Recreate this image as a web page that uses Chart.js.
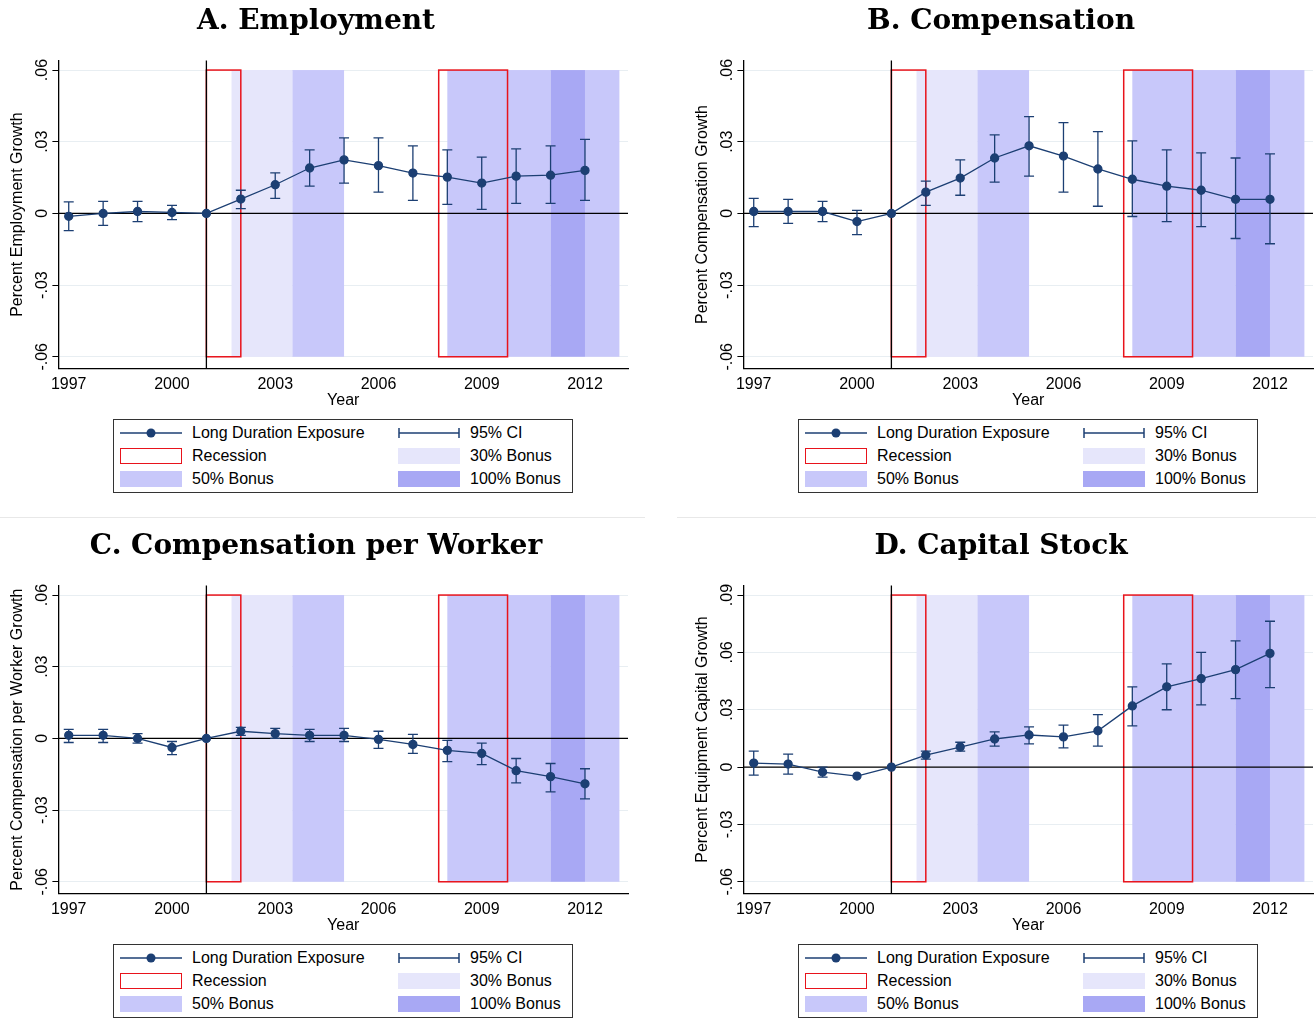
<!DOCTYPE html>
<html><head><meta charset="utf-8">
<script src="https://cdn.jsdelivr.net/npm/chart.js@4"></script>
<style>
body{margin:0;background:#fff;font-family:"Liberation Sans",Arial,sans-serif;}
#grid{position:relative;width:1316px;height:1019px;}
.panel{position:absolute;width:658px;height:509px;}
.panel canvas{position:absolute;left:0;top:0;}
.sep{position:absolute;height:1px;background:#e8e8e8;top:517px;}
.legend{position:absolute;left:113px;top:419px;width:458px;height:72px;border:1px solid #333;font-size:16px;color:#000;}
.item{position:absolute;height:20px;line-height:20px;}
.sw{position:absolute;left:0;top:2px;width:62px;height:16px;box-sizing:border-box;}
.lbl{position:absolute;left:72px;top:0;white-space:nowrap;}
</style></head><body>
<div id="grid"><div class="sep" style="left:0;width:645px"></div><div class="sep" style="left:677px;width:639px"></div></div>
<script>
const years=[1997,1998,1999,2000,2001,2002,2003,2004,2005,2006,2007,2008,2009,2010,2011,2012];
const xTicks=[1997,2000,2003,2006,2009,2012];
// Panel A
const empVal=[-0.0012,0,0.0008,0.0004,0,0.006,0.012,0.019,0.0224,0.020,0.0169,0.0152,0.0127,0.0156,0.016,0.018];
const empLo=[-0.0072,-0.005,-0.0034,-0.0026,0,0.002,0.0063,0.0114,0.0127,0.0089,0.0055,0.0038,0.0017,0.0042,0.0042,0.0055];
const empHi=[0.0048,0.005,0.005,0.0034,0,0.0097,0.017,0.0266,0.0316,0.0316,0.0283,0.0266,0.0236,0.027,0.0283,0.031];
// Panel B
const compVal=[0.0008,0.0008,0.0008,-0.0034,0,0.0089,0.0148,0.0232,0.0283,0.024,0.0186,0.0143,0.0114,0.0097,0.0059,0.0059];
const compLo=[-0.0055,-0.0042,-0.0034,-0.0089,0,0.0034,0.0076,0.0131,0.0156,0.0089,0.003,-0.0013,-0.0034,-0.0055,-0.0105,-0.0127];
const compHi=[0.0063,0.0059,0.005,0.0013,0,0.0135,0.0224,0.0329,0.0405,0.038,0.0342,0.0304,0.0266,0.0253,0.0232,0.0249];
// Panel C
const cpwVal=[0.0013,0.0013,0,-0.0038,0,0.003,0.002,0.0013,0.0013,-0.0004,-0.0025,-0.005,-0.0063,-0.0135,-0.016,-0.019];
const cpwLo=[-0.0017,-0.0017,-0.002,-0.0068,0,0.0013,0,-0.0013,-0.0013,-0.0042,-0.0063,-0.0097,-0.011,-0.0186,-0.0224,-0.0253];
const cpwHi=[0.0038,0.0038,0.002,-0.0013,0,0.0046,0.0042,0.0038,0.0042,0.003,0.0017,-0.0008,-0.002,-0.0084,-0.0105,-0.0127];
// Panel D
const capVal=[0.0021,0.0016,-0.0026,-0.0047,0,0.0063,0.0105,0.0147,0.0168,0.0158,0.019,0.032,0.042,0.0463,0.051,0.0595];
const capLo=[-0.0042,-0.0037,-0.0053,-0.0047,0,0.0042,0.0084,0.011,0.0121,0.01,0.011,0.0216,0.03,0.0326,0.0358,0.0416];
const capHi=[0.0084,0.0068,0,-0.0047,0,0.0084,0.013,0.0184,0.021,0.022,0.0274,0.042,0.054,0.06,0.066,0.0763];
// shading: [start,end,type]
const bands=[[2001.73,2003.5,'b30'],[2003.5,2005,'b50'],[2008,2011,'b50'],[2011,2012,'b100'],[2012,2013,'b50']];
const recessions=[[2001,2002],[2007.75,2009.75]];
const colors={b30:'rgb(230,230,251)',b50:'rgb(200,200,250)',b100:'rgb(168,168,244)',line:'#1c3f73',rec:'#e8131b'};

const panels=[
 {title:'A. Employment',yTitle:'Percent Employment Growth',v:empVal,lo:empLo,hi:empHi,yr:[-0.06,0.06],left:0,top:0},
 {title:'B. Compensation',yTitle:'Percent Compensation Growth',v:compVal,lo:compLo,hi:compHi,yr:[-0.06,0.06],left:685,top:0},
 {title:'C. Compensation per Worker',yTitle:'Percent Compensation per Worker Growth',v:cpwVal,lo:cpwLo,hi:cpwHi,yr:[-0.06,0.06],left:0,top:525},
 {title:'D. Capital Stock',yTitle:'Percent Equipment Capital Growth',v:capVal,lo:capLo,hi:capHi,yr:[-0.06,0.09],left:685,top:525}
];
function fmt(v){if(Math.abs(v)<1e-9)return '0';let s=Math.abs(v).toFixed(2).replace(/^0/,'');return (v<0?'-':'')+s;}

const overlay={id:'overlay',
 beforeDatasetsDraw(c,a,o){const {ctx,scales:{x,y}}=c;const [y0,y1]=o.yr;ctx.save();
  for(const b of bands){ctx.fillStyle=colors[b[2]];const L=x.getPixelForValue(b[0]),R=x.getPixelForValue(b[1]);ctx.fillRect(L,y.getPixelForValue(y1),R-L,y.getPixelForValue(y0)-y.getPixelForValue(y1));}
  ctx.strokeStyle=colors.rec;ctx.lineWidth=1.5;
  for(const r of recessions){const L=x.getPixelForValue(r[0]),R=x.getPixelForValue(r[1]);ctx.strokeRect(L,y.getPixelForValue(y1),R-L,y.getPixelForValue(y0)-y.getPixelForValue(y1));}
  ctx.strokeStyle='#000';ctx.lineWidth=1.3;ctx.beginPath();
  ctx.moveTo(x.left,y.getPixelForValue(0));ctx.lineTo(x.right,y.getPixelForValue(0));
  const vx=x.getPixelForValue(2001);ctx.moveTo(vx,y.top);ctx.lineTo(vx,y.bottom);ctx.stroke();
  ctx.strokeStyle=colors.line;ctx.lineWidth=1.3;ctx.beginPath();
  years.forEach((yy,i)=>{if(o.lo[i]===o.hi[i])return;const px=x.getPixelForValue(yy),a1=y.getPixelForValue(o.lo[i]),a2=y.getPixelForValue(o.hi[i]);
   ctx.moveTo(px,a1);ctx.lineTo(px,a2);ctx.moveTo(px-5,a1);ctx.lineTo(px+5,a1);ctx.moveTo(px-5,a2);ctx.lineTo(px+5,a2);});
  ctx.stroke();ctx.restore();},
 afterDraw(c,a,o){const {ctx,scales:{y}}=c;ctx.save();ctx.fillStyle='#000';ctx.font='16px "Liberation Sans", Arial, sans-serif';
  ctx.textAlign='center';ctx.textBaseline='bottom';
  y.ticks.forEach(t=>{const py=y.getPixelForValue(t.value);ctx.save();ctx.translate(y.right-8,py);ctx.rotate(-Math.PI/2);ctx.fillText(fmt(t.value),0,0);ctx.restore();});
  ctx.restore();}};

panels.forEach((p,k)=>{
 const d=document.createElement('div');d.className='panel';d.style.left=p.left+'px';d.style.top=p.top+'px';
 d.innerHTML='<canvas width="640" height="410" style="width:640px;height:410px"></canvas>'+
 '<div class="legend">'+
 '<div class="item" style="left:6px;top:3px"><svg class="sw" style="height:16px" viewBox="0 0 62 16"><line x1="0" y1="8" x2="62" y2="8" stroke="'+colors.line+'" stroke-width="1.5"/><circle cx="31" cy="8" r="4.5" fill="'+colors.line+'"/></svg><span class="lbl">Long Duration Exposure</span></div>'+
 '<div class="item" style="left:284px;top:3px"><svg class="sw" viewBox="0 0 62 16"><line x1="1" y1="8" x2="61" y2="8" stroke="'+colors.line+'" stroke-width="1.5"/><line x1="1" y1="3" x2="1" y2="13" stroke="'+colors.line+'" stroke-width="1.5"/><line x1="61" y1="3" x2="61" y2="13" stroke="'+colors.line+'" stroke-width="1.5"/></svg><span class="lbl">95% CI</span></div>'+
 '<div class="item" style="left:6px;top:26px"><div class="sw" style="border:1.5px solid '+colors.rec+'"></div><span class="lbl">Recession</span></div>'+
 '<div class="item" style="left:284px;top:26px"><div class="sw" style="background:'+colors.b30+'"></div><span class="lbl">30% Bonus</span></div>'+
 '<div class="item" style="left:6px;top:49px"><div class="sw" style="background:'+colors.b50+'"></div><span class="lbl">50% Bonus</span></div>'+
 '<div class="item" style="left:284px;top:49px"><div class="sw" style="background:'+colors.b100+'"></div><span class="lbl">100% Bonus</span></div>'+
 '</div>';
 document.getElementById('grid').appendChild(d);
 const pad=(p.yr[1]-p.yr[0])*0.033;
 const yt=[];for(let t=p.yr[0];t<=p.yr[1]+1e-9;t+=0.03)yt.push(+t.toFixed(2));
 new Chart(d.querySelector('canvas'),{type:'line',
  data:{datasets:[{data:years.map((y,i)=>({x:y,y:p.v[i]})),borderColor:colors.line,backgroundColor:colors.line,borderWidth:1.3,pointRadius:4,pointHoverRadius:4,tension:0}]},
  options:{responsive:false,animation:false,
   layout:{padding:{left:4,right:12,top:0,bottom:0}},
   plugins:{legend:{display:false},tooltip:{enabled:false},overlay:{yr:p.yr,lo:p.lo,hi:p.hi},
    title:{display:true,text:p.title,color:'#000',font:{family:'"DejaVu Serif"',size:28,weight:'bold'},padding:{top:5,bottom:22}}},
   scales:{
    x:{type:'linear',min:1996.7,max:2013.25,afterBuildTicks:a=>{a.ticks=xTicks.map(v=>({value:v}));},
     ticks:{color:'#000',font:{size:16},callback:v=>String(v),maxRotation:0,padding:0},
     grid:{display:false,drawTicks:true,tickLength:6,color:'#000'},border:{color:'#000',width:1.3},
     title:{display:true,text:'Year',color:'#000',font:{size:16},padding:{top:-3,bottom:0}}},
    y:{min:p.yr[0]-pad*1.25,max:p.yr[1]+pad,afterBuildTicks:a=>{a.ticks=yt.map(v=>({value:v}));},
     ticks:{color:'rgba(0,0,0,0)',font:{size:16},callback:v=>fmt(v),minRotation:90,maxRotation:90,padding:2},
     grid:{color:'#e8eef2',tickLength:6,tickColor:'#000'},border:{color:'#000',width:1.3},
     title:{display:true,text:p.yTitle,color:'#000',font:{size:16},padding:{bottom:2}}}}},
  plugins:[overlay]});
});
</script></body></html>
